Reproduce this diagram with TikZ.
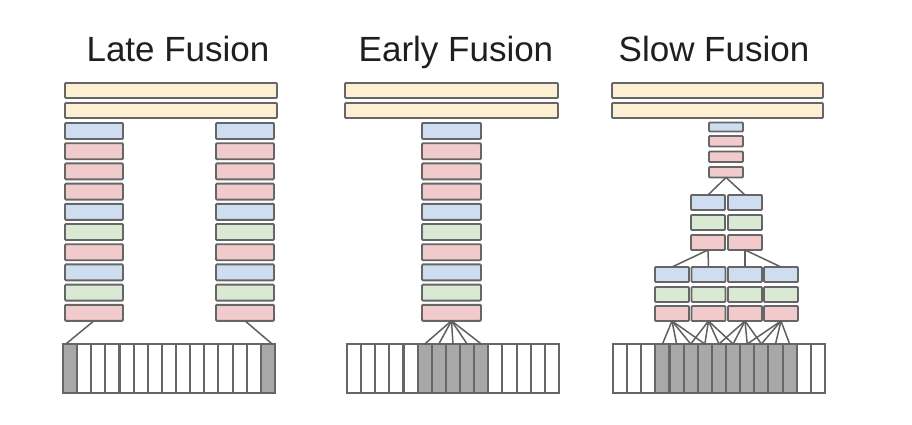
\documentclass[tikz,border=0pt]{standalone}
\usepackage{fontspec}
\setmainfont{Liberation Sans}
\usetikzlibrary{calc}
\definecolor{bord}{HTML}{666666}
\definecolor{cyel}{HTML}{FDF0D2}
\definecolor{cblu}{HTML}{CFDDF1}
\definecolor{cpnk}{HTML}{F1CBCC}
\definecolor{cgrn}{HTML}{D9E9D3}
\definecolor{cgry}{HTML}{A8A8A8}
\definecolor{cline}{HTML}{606060}
\tikzset{
  lay/.style={draw=bord, line width=1.9pt, rounded corners=1pt, anchor=north west, inner sep=0pt, outer sep=0pt},
  bar/.style={lay, fill=cyel, minimum height=15},
  frm/.style={draw=bord, line width=2.1pt, anchor=north west, inner sep=0pt, outer sep=0pt, minimum width=14.13, minimum height=49},
  conn/.style={draw=cline, line width=1.5pt},
  ttl/.style={anchor=base, font=\fontsize{35}{42}\selectfont, text=black!88}
}
\begin{document}
\begin{tikzpicture}[x=1pt,y=-1pt]
\fill[white] (0,0) rectangle (912,425);
\useasboundingbox (0,0) rectangle (912,425);

% titles
\node[ttl] (t1) at (178,62) {Late Fusion};
\node[ttl] (t2) at (456,62) {Early Fusion};
\node[ttl] (t3) at (714,62) {Slow Fusion};

% ---------- Late fusion ----------
\node[bar, minimum width=212] (lb1) at (65,83) {};
\node[bar, minimum width=212] (lb2) at (65,103) {};
\foreach \c [count=\i] in {cblu,cpnk,cpnk,cpnk,cblu,cgrn,cpnk,cblu,cgrn,cpnk}{
  \node[lay, fill=\c, minimum width=58, minimum height=16] (la\i) at (65,{123+(\i-1)*20.2}) {};
  \node[lay, fill=\c, minimum width=58, minimum height=16] (lc\i) at (216,{123+(\i-1)*20.2}) {};
}
\foreach \i in {0,...,14}{
  \pgfmathsetmacro\fc{(\i==0 || \i==14) ? "cgry" : "white"}
  \node[frm, fill=\fc] (lf\i) at ({63+\i*14.13},344) {};
}
\draw[conn] (la10.south) -- ($(lf0.north west)!0.2!(lf0.north east)$);
\draw[conn] (lc10.south) -- ($(lf14.north east)!0.2!(lf14.north west)$);

% ---------- Early fusion ----------
\node[bar, minimum width=213] (eb1) at (345,83) {};
\node[bar, minimum width=213] (eb2) at (345,103) {};
\foreach \c [count=\i] in {cblu,cpnk,cpnk,cpnk,cblu,cgrn,cpnk,cblu,cgrn,cpnk}{
  \node[lay, fill=\c, minimum width=59, minimum height=16] (ea\i) at (422,{123+(\i-1)*20.2}) {};
}
\foreach \i in {0,...,14}{
  \pgfmathsetmacro\fc{(\i>4 && \i<10) ? "cgry" : "white"}
  \node[frm, fill=\fc] (ef\i) at ({347+\i*14.13},344) {};
}
\foreach \i in {5,...,9}{
  \draw[conn] (ea10.south) -- (ef\i.north);
}

% ---------- Slow fusion ----------
\node[bar, minimum width=211] (sb1) at (612,83) {};
\node[bar, minimum width=211] (sb2) at (612,103) {};
% top small column
\node[lay, fill=cblu, minimum width=34, minimum height=9] (st1) at (709,122.5) {};
\node[lay, fill=cpnk, minimum width=34, minimum height=10.5] (st2) at (709,136) {};
\node[lay, fill=cpnk, minimum width=34, minimum height=10.5] (st3) at (709,151.5) {};
\node[lay, fill=cpnk, minimum width=34, minimum height=10.5] (st4) at (709,167) {};
% two columns
\foreach \x [count=\k] in {691,728}{
  \node[lay, fill=cblu, minimum width=34, minimum height=15] (sm\k a) at (\x,195) {};
  \node[lay, fill=cgrn, minimum width=34, minimum height=15] (sm\k b) at (\x,215) {};
  \node[lay, fill=cpnk, minimum width=34, minimum height=15] (sm\k c) at (\x,235) {};
}
% four columns
\foreach \x [count=\k] in {655,691.5,728,764}{
  \node[lay, fill=cblu, minimum width=34, minimum height=15] (sd\k a) at (\x,267) {};
  \node[lay, fill=cgrn, minimum width=34, minimum height=15] (sd\k b) at (\x,287) {};
  \node[lay, fill=cpnk, minimum width=34, minimum height=15] (sd\k c) at (\x,306) {};
}
\foreach \i in {0,...,14}{
  \pgfmathsetmacro\fc{(\i>2 && \i<13) ? "cgry" : "white"}
  \node[frm, fill=\fc] (sf\i) at ({613+\i*14.13},344) {};
}
% connectors
\draw[conn] (st4.south) -- (sm1a.north);
\draw[conn] (st4.south) -- (sm2a.north);
\draw[conn] (sm1c.south) -- (sd1a.north);
\draw[conn] (sm1c.south) -- (sd2a.north);
\draw[conn] (sm2c.south) -- (sd3a.north);
\draw[conn] (sm2c.south) -- (sd4a.north);
\foreach \k/\a in {1/3,2/5,3/7,4/9}{
  \foreach \j in {0,...,3}{
    \pgfmathtruncatemacro\f{\a+\j}
    \draw[conn] (sd\k c.south) -- (sf\f.north);
  }
}
\end{tikzpicture}
\end{document}
